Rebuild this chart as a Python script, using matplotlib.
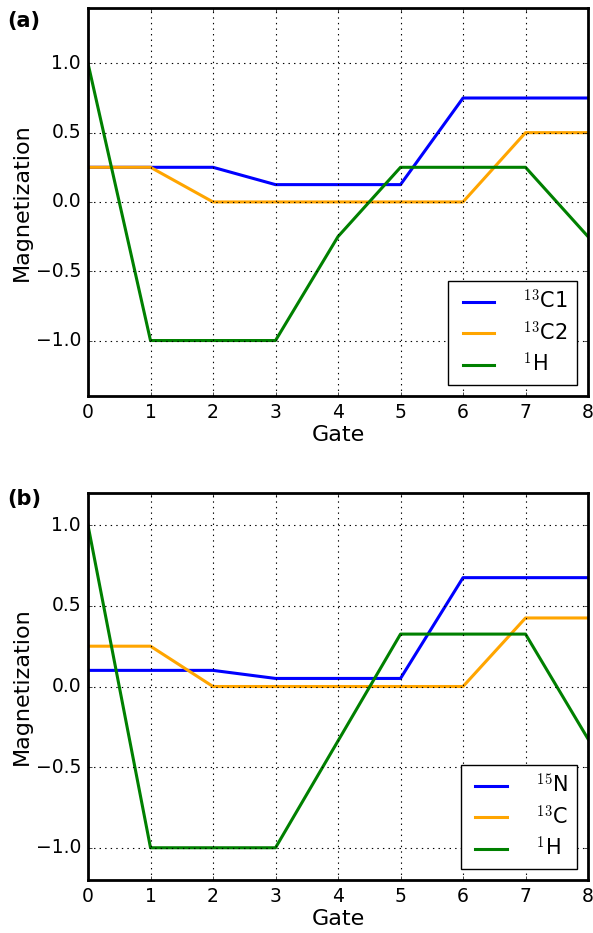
import matplotlib
matplotlib.use('Agg')
import matplotlib.pyplot as plt

plt.style.use('classic')

gates = [0, 1, 2, 3, 4, 5, 6, 7, 8]

# panel (a)
a_c1 = [0.25, 0.25, 0.25, 0.125, 0.125, 0.125, 0.75, 0.75, 0.75]
a_c2 = [0.25, 0.25, 0.0, 0.0, 0.0, 0.0, 0.0, 0.5, 0.5]
a_h = [1.0, -1.0, -1.0, -1.0, -0.25, 0.25, 0.25, 0.25, -0.25]
a_labels = [r'$^{13}$C1', r'$^{13}$C2', r'$^{1}$H']

# panel (b)
b_n = [0.1, 0.1, 0.1, 0.05, 0.05, 0.05, 0.675, 0.675, 0.675]
b_c = [0.25, 0.25, 0.0, 0.0, 0.0, 0.0, 0.0, 0.425, 0.425]
b_h = [1.0, -1.0, -1.0, -1.0, -0.3375, 0.325, 0.325, 0.325, -0.325]
b_labels = [r'$^{15}$N', r'$^{13}$C', r'$^{1}$H']

colors = ['#0000ff', '#ffa500', '#008000']

fig = plt.figure(figsize=(5.93, 9.33), dpi=100, facecolor='white')
ax1 = fig.add_axes([0.1484, 0.5756, 0.8432, 0.4159])
ax2 = fig.add_axes([0.1484, 0.0568, 0.8432, 0.4148])


def draw(ax, series, labels, ylim, tag, name):
    for ys, lab, c in zip(series, labels, colors):
        ax.plot(gates, ys, color=c, linewidth=2.2, label=lab)
    ax.set_xlim(0, 8)
    ax.set_ylim(*ylim)
    ax.set_xticks(gates)
    ax.set_yticks([-1.0, -0.5, 0.0, 0.5, 1.0])
    ax.grid(True, color='black', linestyle=':', linewidth=0.8)
    for s in ax.spines.values():
        s.set_linewidth(2)
    ax.tick_params(labelsize=13.5, direction='in', length=3, pad=5)
    ax.set_xlabel('Gate', fontsize=16, labelpad=2)
    ax.set_ylabel('Magnetization', fontsize=16, labelpad=3)
    leg = ax.legend(loc='lower right', fontsize=15, handlelength=2.1,
                    handletextpad=1.1, borderaxespad=0.55, labelspacing=0.35,
                    fancybox=False)
    leg.get_frame().set_linewidth(1.0)
    fig.text(0.012, tag, name, fontsize=15, fontweight='bold',
             va='center', ha='left')


draw(ax1, [a_c1, a_c2, a_h], a_labels, (-1.4, 1.4), 1 - 21 / 933, '(a)')
draw(ax2, [b_n, b_c, b_h], b_labels, (-1.2, 1.2), 1 - 499 / 933, '(b)')

fig.savefig('out.png', dpi=100, facecolor='white')
